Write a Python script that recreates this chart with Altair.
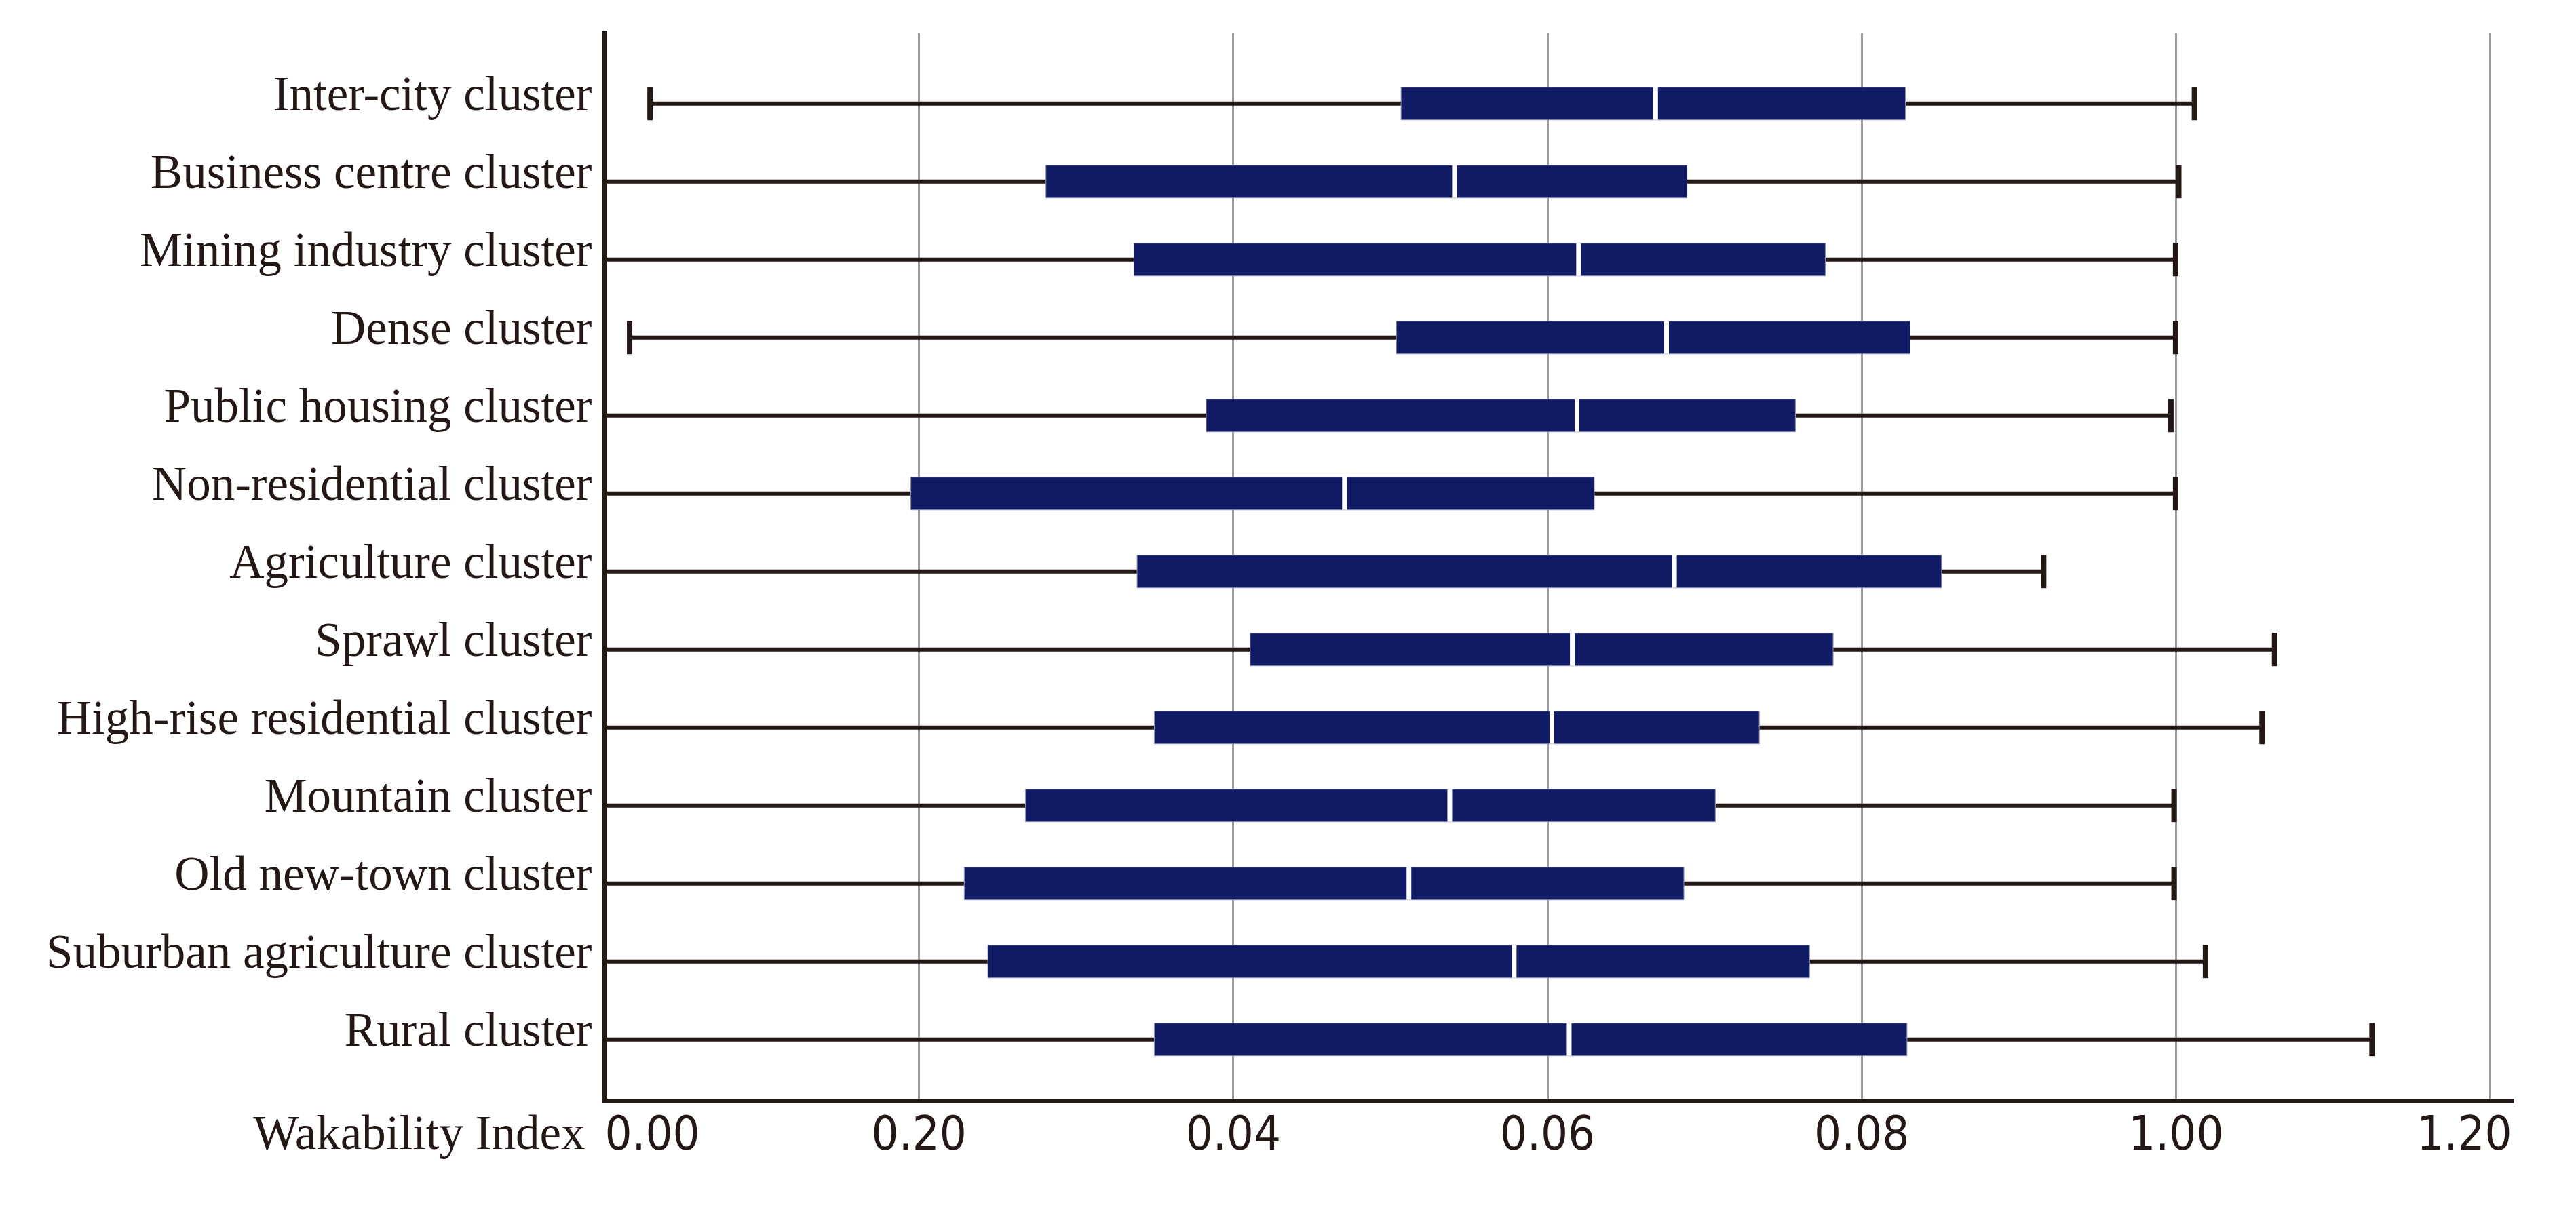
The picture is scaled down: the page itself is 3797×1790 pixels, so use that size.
import altair as alt
import pandas as pd

categories = [
    "Inter-city cluster", "Business centre cluster", "Mining industry cluster",
    "Dense cluster", "Public housing cluster", "Non-residential cluster",
    "Agriculture cluster", "Sprawl cluster", "High-rise residential cluster",
    "Mountain cluster", "Old new-town cluster", "Suburban agriculture cluster",
    "Rural cluster",
]
whisker_min = [0.029, 0.0, 0.0, 0.016, 0.0, 0.0, 0.0, 0.0, 0.0, 0.0, 0.0, 0.0, 0.0]
q1 = [0.507, 0.281, 0.337, 0.504, 0.383, 0.195, 0.339, 0.411, 0.350, 0.268, 0.229, 0.244, 0.350]
median = [0.669, 0.541, 0.620, 0.676, 0.619, 0.471, 0.681, 0.616, 0.603, 0.538, 0.512, 0.579, 0.614]
q3 = [0.828, 0.689, 0.777, 0.831, 0.758, 0.630, 0.851, 0.782, 0.735, 0.707, 0.687, 0.767, 0.829]
whisker_max = [1.012, 1.002, 1.000, 1.000, 0.997, 1.000, 0.916, 1.063, 1.055, 0.999, 0.999, 1.019, 1.125]

tick_values = [0, 0.2, 0.4, 0.6, 0.8, 1.0, 1.2]
tick_labels = ["0.00", "0.20", "0.04", "0.06", "0.08", "1.00", "1.20"]
axis_title = "Wakability Index"
axis_max = 1.2138

INK = "#231815"
NAVY = "#111a64"
SERIF = "Liberation Serif"
NARROW = "Liberation Sans Narrow, DejaVu Sans Condensed, sans-serif"

df = pd.DataFrame({
    "cluster": categories,
    "lo": whisker_min,
    "q1": q1,
    "med": median,
    "q3": q3,
    "hi": whisker_max,
})

label_expr = "[" + ",".join(f"'{t}'" for t in tick_labels) + "][round(datum.value * 5)]"

xscale = alt.Scale(domain=[0, axis_max], nice=False, zero=True)
xaxis = alt.Axis(
    title=axis_title,
    values=tick_values,
    labelExpr=label_expr,
    grid=True, gridColor="#9c9c9c", gridWidth=3,
    ticks=False, tickSize=0,
    domainColor=INK, domainWidth=7, domainCap="square",
    labelFont=NARROW, labelFontSize=70, labelColor=INK,
    labelBaseline="alphabetic", labelPadding=71,
    labelFlush=False, labelOverlap=False,
    labelAlign={"condition": [{"test": "datum.value <= 0", "value": "left"},
                              {"test": "datum.value >= 1.19", "value": "right"}],
                "value": "center"},
    labelOffset={"condition": {"test": "datum.value >= 1.19", "value": 32}, "value": 0},
    titleFont=SERIF, titleFontSize=71, titleFontWeight="normal", titleColor=INK,
    titleAlign="right", titleBaseline="alphabetic", titleX=-29, titleY=70,
    titleAnchor="start",
)

yscale = alt.Scale(paddingInner=0, paddingOuter=0.348, align=0.59)
yaxis = alt.Axis(
    title=None, ticks=False, tickSize=0, grid=False,
    domainColor=INK, domainWidth=7, domainCap="square",
    labelFont=SERIF, labelFontSize=71, labelColor=INK,
    labelPadding=19, labelBaseline="alphabetic", labelOffset=9,
    labelLimit=2000,
)


def X(field):
    return alt.X(field, type="quantitative", scale=xscale, axis=xaxis)


base = alt.Chart(df).encode(
    y=alt.Y("cluster:N", sort=categories, scale=yscale, axis=yaxis)
)

whisker = base.mark_rule(color=INK, strokeWidth=6).encode(x=X("lo"), x2="hi")
box = base.mark_bar(size=48, color=NAVY, stroke="#8c90b0", strokeWidth=1).encode(
    x=X("q1"), x2="q3"
)
med = base.mark_tick(color="white", thickness=7, size=48, opacity=1).encode(x=X("med"))
cap_hi = base.mark_tick(color=INK, thickness=8, size=49, opacity=1).encode(x=X("hi"))
cap_lo = base.transform_filter("datum.lo > 0").mark_tick(
    color=INK, thickness=8, size=49, opacity=1
).encode(x=X("lo"))

chart = alt.layer(whisker, box, med, cap_hi, cap_lo).properties(
    width=2811,
    height=1575,
    autosize=alt.AutoSizeParams(type="none"),
    padding={"left": 883, "top": 40, "right": 80, "bottom": 140},
    background="white",
).configure_view(stroke=None)

chart.save("out.html", embed_options={"renderer": "svg", "actions": False})
